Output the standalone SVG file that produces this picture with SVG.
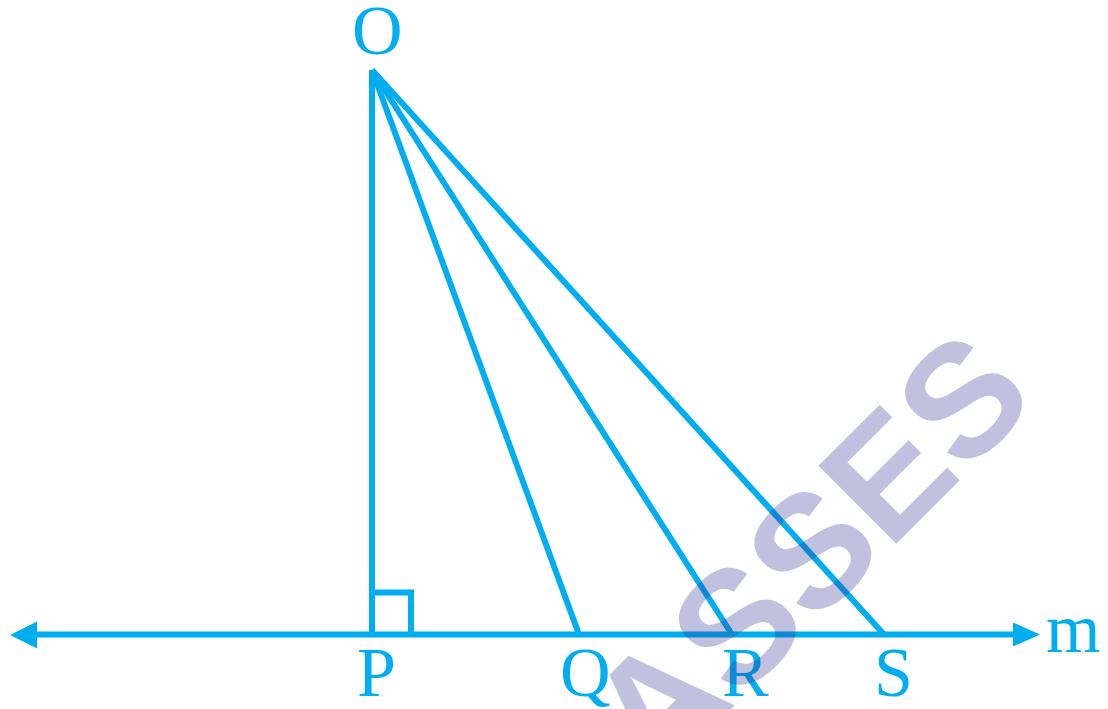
<svg xmlns="http://www.w3.org/2000/svg" width="1108" height="709" viewBox="0 0 1108 709">
  <style>
    .ln { stroke: #00aeef; stroke-width: 6; fill: none; stroke-linecap: butt; }
    .lbl { font-family: "Liberation Serif", "Times New Roman", serif; font-size: 70px; fill: #00aeef; }
    .wm { font-family: "Liberation Sans", Arial, sans-serif; font-weight: bold; font-size: 160px; fill: #2e3192; fill-opacity: 0.3; }
  </style>
  <rect width="1108" height="709" fill="#ffffff"/>
  <g id="connectors">
    <line class="ln" x1="372" y1="70" x2="372" y2="634.5"/>
    <line class="ln" x1="372" y1="70" x2="579" y2="634.5"/>
    <line class="ln" x1="372" y1="70" x2="732" y2="634.5"/>
    <line class="ln" x1="372" y1="70" x2="884" y2="634.5"/>
    <line class="ln" x1="34" y1="634.5" x2="1016" y2="634.5"/>
    <polygon points="10,635 37,621.5 37,648.5" fill="#00aeef"/>
    <polygon points="1040,634.5 1013,622.5 1013,646.5" fill="#00aeef"/>
    <polyline class="ln" points="372,592.5 411,592.5 411,634.5"/>
  </g>
  <g id="node-O"><text class="lbl" x="352" y="54">O</text></g>
  <g id="node-P"><text class="lbl" x="357" y="696">P</text></g>
  <g id="node-Q"><text class="lbl" x="560" y="696">Q</text></g>
  <g id="node-R"><text class="lbl" x="722" y="696">R</text></g>
  <g id="node-S"><text class="lbl" x="874" y="696">S</text></g>
  <g id="node-m"><text class="lbl" x="1046" y="652">m</text></g>
  <g id="watermark">
    <text class="wm" transform="translate(656,784) rotate(-45)">ASSES</text>
  </g>
</svg>
